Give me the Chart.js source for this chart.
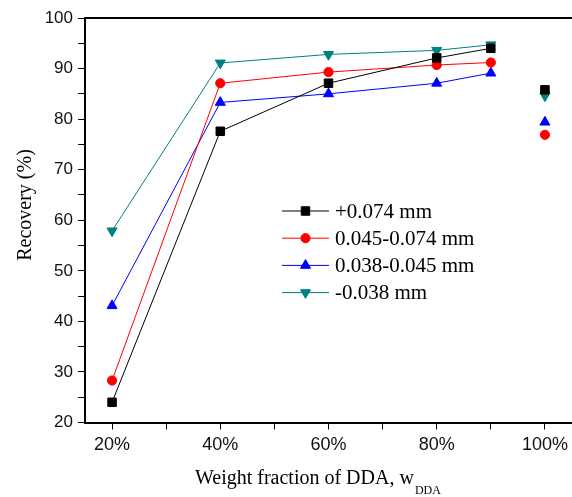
<!DOCTYPE html>
<html lang="en">
<head>
  <meta charset="UTF-8">
  <title>Recovery vs weight fraction of DDA</title>
  <script src="https://cdn.jsdelivr.net/npm/chart.js"></script>
  <style>
    html, body { margin: 0; padding: 0; background: #fff; }
    #wrap { width: 572px; height: 497px; position: relative; }
  </style>
</head>
<body>
  <div id="wrap"><canvas id="chart"></canvas></div>
  <script>
    // data
    const weights = [20, 40, 60, 80, 90, 100];
    const coarse = [24.0, 77.6, 87.1, 92.1, 94.0, 85.8];     // +0.074 mm
    const medium = [28.3, 87.1, 89.3, 90.7, 91.2, 76.9];     // 0.045-0.074 mm
    const fine = [43.1, 83.3, 85.0, 87.1, 89.1, 79.4];       // 0.038-0.045 mm
    const finest = [57.9, 91.1, 92.8, 93.6, 94.7, 84.6];     // -0.038 mm
    const seriesNames = ["+0.074 mm", "0.045-0.074 mm", "0.038-0.045 mm", "-0.038 mm"];
    const xTicks = [20, 30, 40, 50, 60, 70, 80, 90, 100];
    const xLabels = ["20%", "40%", "60%", "80%", "100%"];
    const yTicks = [20, 25, 30, 35, 40, 45, 50, 55, 60, 65, 70, 75, 80, 85, 90, 95, 100];

    const sans = "'Liberation Sans', Arial, sans-serif";
    const serif = "'Liberation Serif', 'Times New Roman', serif";

    const styles = [
      { color: "#000000", pointStyle: "rect", radius: 6, rotation: 0 },
      { color: "#ff0000", pointStyle: "circle", radius: 4.6, rotation: 0 },
      { color: "#0000ff", pointStyle: "triangle", radius: 5.8, rotation: 0 },
      { color: "#008080", pointStyle: "triangle", radius: 5.8, rotation: 180 }
    ];

    function makeSet(name, values, st) {
      return {
        label: name,
        data: weights.map((w, i) => ({ x: w, y: values[i] })),
        borderColor: st.color,
        backgroundColor: st.color,
        borderWidth: 1,
        pointStyle: st.pointStyle,
        pointRadius: st.radius,
        pointRotation: st.rotation,
        pointBorderWidth: 1,
        pointBorderColor: st.color,
        pointBackgroundColor: st.color,
        // the 100% point stands alone, no line to it
        segment: {
          borderColor: ctx => ctx.p1DataIndex === weights.length - 1 ? "rgba(0,0,0,0)" : st.color
        },
        tension: 0,
        clip: false
      };
    }

    // legend, axis titles and top frame line
    const extras = {
      id: "extras",
      afterDraw(chart) {
        const ctx = chart.ctx;
        const area = chart.chartArea;
        ctx.save();

        // top frame
        ctx.strokeStyle = "#000";
        ctx.lineWidth = 2;
        ctx.beginPath();
        ctx.moveTo(area.left, area.top);
        ctx.lineTo(area.right, area.top);
        ctx.stroke();

        // legend
        const lx0 = 282, lx1 = 329, ly0 = 211, step = 27.2;
        ctx.font = "21px " + serif;
        ctx.textBaseline = "middle";
        ctx.textAlign = "left";
        styles.forEach((st, i) => {
          const y = ly0 + i * step;
          ctx.strokeStyle = st.color;
          ctx.lineWidth = 1;
          ctx.beginPath();
          ctx.moveTo(lx0, y);
          ctx.lineTo(lx1, y);
          ctx.stroke();
          ctx.fillStyle = st.color;
          Chart.helpers.drawPoint(ctx, {
            pointStyle: st.pointStyle, radius: st.radius, rotation: st.rotation, borderWidth: 1
          }, (lx0 + lx1) / 2, y);
          ctx.fillStyle = "#000";
          ctx.fillText(seriesNames[i], 335, y + 1);
        });

        // x title with subscript
        ctx.fillStyle = "#000";
        ctx.textBaseline = "alphabetic";
        ctx.font = "20px " + serif;
        const main = "Weight fraction of DDA, w";
        ctx.fillText(main, 195, 484);
        const mw = ctx.measureText(main).width;
        ctx.font = "12px " + serif;
        ctx.fillText("DDA", 195 + mw + 1, 494);

        // y title
        ctx.translate(31, 205);
        ctx.rotate(-Math.PI / 2);
        ctx.font = "20px " + serif;
        ctx.textAlign = "center";
        ctx.fillText("Recovery (%)", 0, 0);

        ctx.restore();
      }
    };

    new Chart(document.getElementById("chart"), {
      type: "line",
      data: {
        datasets: [
          makeSet(seriesNames[0], coarse, styles[0]),
          makeSet(seriesNames[1], medium, styles[1]),
          makeSet(seriesNames[2], fine, styles[2]),
          makeSet(seriesNames[3], finest, styles[3])
        ]
      },
      options: {
        responsive: true,
        maintainAspectRatio: false,
        animation: false,
        layout: { autoPadding: false, padding: { top: 18, right: 0, left: 0, bottom: 0 } },
        plugins: { legend: { display: false }, tooltip: { enabled: false } },
        scales: {
          x: {
            type: "linear",
            min: 15,
            max: 105,
            afterBuildTicks: s => { s.ticks = xTicks.map(v => ({ value: v })); },
            afterFit: s => { s.height = 74.5; s.paddingLeft = 0; s.paddingRight = 0; },
            grid: { drawOnChartArea: false, color: "#000", tickLength: 7, lineWidth: 1 },
            border: { color: "#000", width: 2 },
            ticks: {
              autoSkip: false,
              maxRotation: 0,
              padding: 5,
              color: "#111",
              font: { family: sans, size: 18 },
              callback: v => (v % 20 === 0 ? xLabels[(v - 20) / 20] : "")
            }
          },
          y: {
            min: 20,
            max: 100,
            afterBuildTicks: s => { s.ticks = yTicks.map(v => ({ value: v })); },
            afterFit: s => { s.width = 85; s.paddingTop = 0; s.paddingBottom = 0; },
            grid: { drawOnChartArea: false, color: "#000", tickLength: 7, lineWidth: 1 },
            border: { color: "#000", width: 2 },
            ticks: {
              autoSkip: false,
              padding: 5,
              color: "#111",
              font: { family: sans, size: 17 },
              callback: v => (v % 10 === 0 ? String(v) : "")
            }
          }
        }
      },
      plugins: [extras]
    });
  </script>
</body>
</html>
